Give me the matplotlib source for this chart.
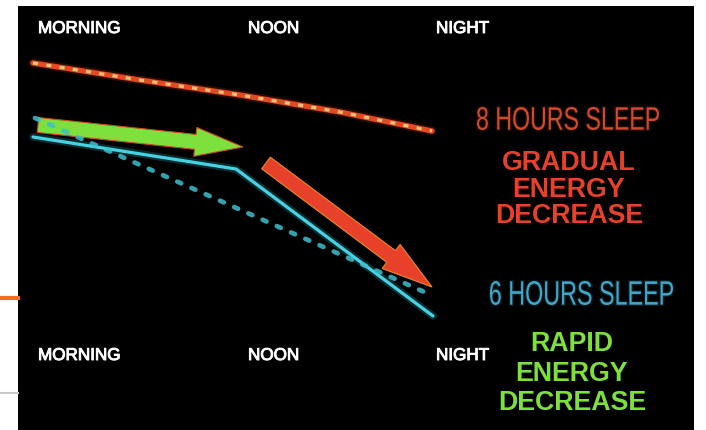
import matplotlib.pyplot as plt
import matplotlib.patheffects as pe
from matplotlib.patches import FancyArrow, PathPatch
from matplotlib.textpath import TextPath
from matplotlib.font_manager import FontProperties
from matplotlib.transforms import Affine2D
from matplotlib.lines import Line2D

# time-of-day labels and where they sit along the x axis (pixel units)
time_labels = ['MORNING', 'NOON', 'NIGHT']
time_label_x = [38, 248, 436]

# energy curves, x = time position, y = screen height (smaller = more energy)
sleep8_x = [33, 140, 240, 340, 432]
sleep8_y = [63, 80, 95, 112, 131]
sleep6_x = [33, 236, 433]
sleep6_y = [137, 169, 316]
sleep6_trend_x = [35, 431]
sleep6_trend_y = [118, 295]

# arrows: tail (x, y) and tip (x, y)
green_arrow = [(38, 125), (243, 147)]
red_arrow = [(266, 163), (432, 287)]

RED = '#e8412b'
GREEN = '#7ee03c'
CYAN = '#45d3e3'

fig = plt.figure(figsize=(7.06, 4.30), dpi=100, facecolor='white')
ax = fig.add_axes([18 / 706, 0, (694 - 18) / 706, (430 - 6) / 430])
ax.set_facecolor('black')
ax.set_xlim(18, 694)
ax.set_ylim(430, 6)
ax.set_xticks([])
ax.set_yticks([])
for s in ax.spines.values():
    s.set_visible(False)

# 8 hours: glowing red line with a pale dotted core
ax.plot(sleep8_x, sleep8_y, color='#e0401e', lw=6.5, alpha=0.18, solid_capstyle='round')
ax.plot(sleep8_x, sleep8_y, color='#e24a22', lw=3.8, solid_capstyle='round')
ax.plot(sleep8_x, sleep8_y, color='#f3c27c', lw=2.3, linestyle=(0, (1.6, 2.6)))

# 6 hours: solid cyan line plus dotted trend
ax.plot(sleep6_x, sleep6_y, color=CYAN, lw=5.5, alpha=0.2, solid_capstyle='round')
ax.plot(sleep6_x, sleep6_y, color=CYAN, lw=2.3, solid_capstyle='round')
ax.plot(sleep6_trend_x, sleep6_trend_y, color='#3cc0cc', lw=3.4,
        linestyle=(0, (0.9, 2.4)), dash_capstyle='round', alpha=0.85)


def draw_arrow(pts, width, head_w, head_l, fc, ec):
    (x0, y0), (x1, y1) = pts
    ax.add_patch(FancyArrow(x0, y0, x1 - x0, y1 - y0, width=width,
                            head_width=head_w, head_length=head_l,
                            length_includes_head=True, fc=fc, ec=ec, lw=0.8))


draw_arrow(green_arrow, 15, 29, 48, GREEN, '#c84a20')
draw_arrow(red_arrow, 14.5, 30, 51, RED, '#f08a20')

# time labels, top and bottom rows
for lab, x in zip(time_labels, time_label_x):
    for y in (33, 360):
        ax.text(x, y, lab, color='white', fontsize=12.3, family='Liberation Sans',
                ha='left', va='baseline',
                path_effects=[pe.withStroke(linewidth=0.7, foreground='white')])


def squeezed_text(s, x0, x1, top, bottom, color, weight='normal'):
    """Draw text fitted into a box, squeezing it horizontally."""
    tp = TextPath((0, 0), s, size=100, prop=FontProperties(family='Liberation Sans', weight=weight))
    ext = tp.get_extents()
    sx = (x1 - x0) / ext.width
    sy = (bottom - top) / ext.height
    tr = Affine2D().translate(-ext.x0, -ext.y0).scale(sx, -sy).translate(x0, bottom)
    ax.add_patch(PathPatch(tp, transform=tr + ax.transData, fc='none', ec=color,
                           lw=2.0, alpha=0.15))
    ax.add_patch(PathPatch(tp, transform=tr + ax.transData, fc=color, ec='none'))


squeezed_text('8 HOURS SLEEP', 477, 659, 107, 130, '#d04a2c')
squeezed_text('6 HOURS SLEEP', 490, 673, 281, 305, '#3fa9ca')

for txt, y in zip(['GRADUAL', 'ENERGY', 'DECREASE'], [170, 197, 223]):
    ax.text(569, y, txt, color=RED, fontsize=19.3, fontweight='bold',
            family='Liberation Sans', ha='center', va='baseline')
for txt, y in zip(['RAPID', 'ENERGY', 'DECREASE'], [351, 381, 410]):
    ax.text(572, y, txt, color=GREEN, fontsize=19.3, fontweight='bold',
            family='Liberation Sans', ha='center', va='baseline')

# bits of the surrounding page at the left edge
fig.add_artist(Line2D([0, 18 / 706], [1 - 298 / 430] * 2, color='#f07020', lw=3,
                      transform=fig.transFigure))
fig.add_artist(Line2D([0, 18 / 706], [1 - 393 / 430] * 2, color='#c8c8c8', lw=1.5,
                      transform=fig.transFigure))

fig.savefig('out.png', dpi=100, facecolor='white')
